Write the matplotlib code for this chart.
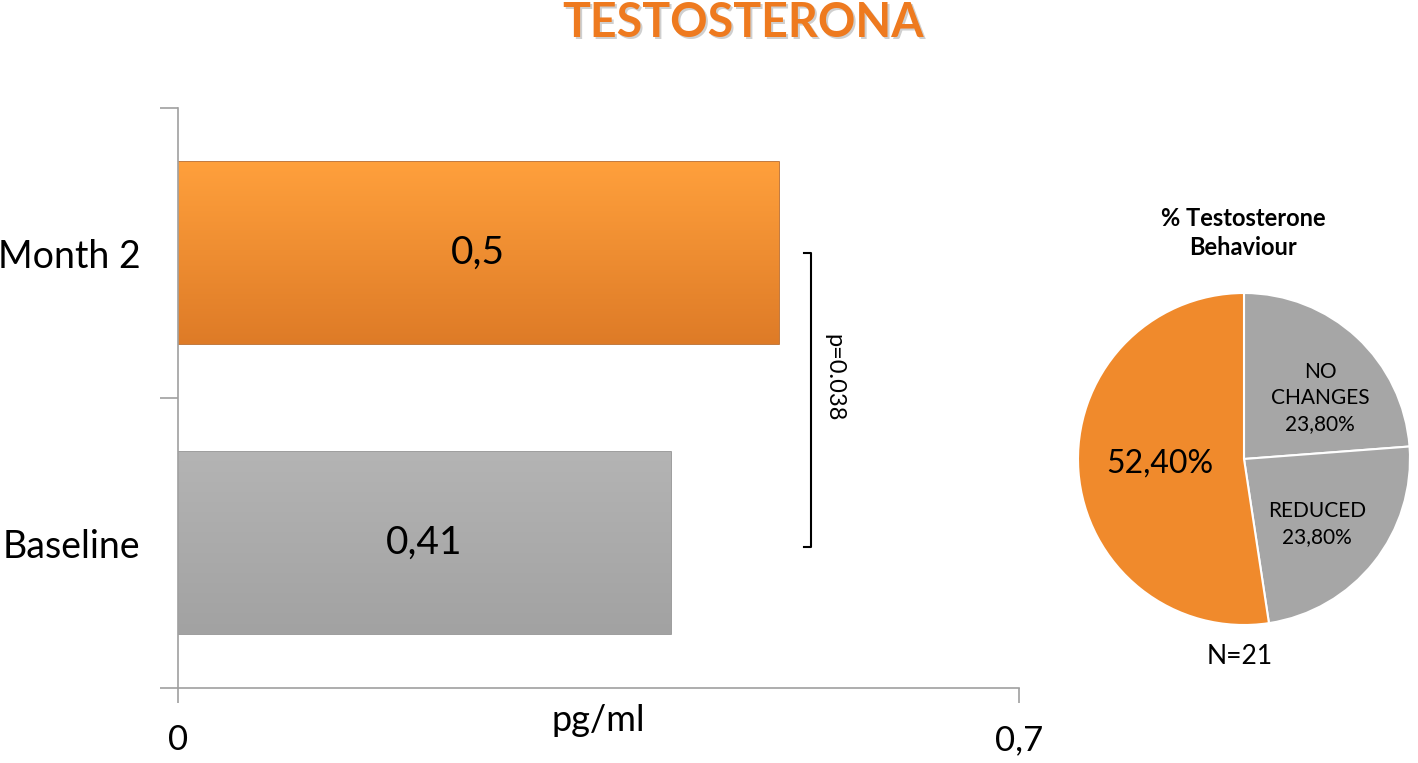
import matplotlib
matplotlib.use("Agg")
import matplotlib.pyplot as plt
import numpy as np
from matplotlib.colors import LinearSegmentedColormap

# ---- data ----
categories = ["Baseline", "Month 2"]
values = [0.41, 0.5]
value_labels = ["0,41", "0,5"]
x_ticks = [0, 0.7]
x_tick_labels = ["0", "0,7"]
p_text = "p=0.038"

pie_labels = ["NO\nCHANGES\n23,80%", "REDUCED\n23,80%", "52,40%"]
pie_values = [23.8, 23.8, 52.4]

plt.rcParams['font.family'] = ['Lato', 'DejaVu Sans']

W, H = 1418, 763
fig = plt.figure(figsize=(W / 100, H / 100), dpi=100)
fig.patch.set_facecolor("white")

# ---- bar axes ----
ax = fig.add_axes([178 / W, 1 - 688 / H, (1019 - 178) / W, (688 - 108) / H])
ypos = np.arange(len(categories))
bar_grad = [("#b4b4b4", "#a2a2a2"), ("#ffa03c", "#de7b27")]
edge_cols = ["#8c8c8c", "#b8621c"]
bars = ax.barh(ypos, values, height=0.63, color=["#ababab", "#f58f30"],
               edgecolor=edge_cols, linewidth=1.2, zorder=2)
for b, (c1, c2) in zip(bars, bar_grad):
    x0, y0 = b.get_x(), b.get_y()
    w, h = b.get_width(), b.get_height()
    cmap = LinearSegmentedColormap.from_list("g", [c2, c1])
    grad = np.linspace(0, 1, 256).reshape(-1, 1)
    im = ax.imshow(grad, cmap=cmap, aspect="auto", origin="lower",
                   extent=[x0, x0 + w, y0, y0 + h], zorder=2.5)
    im.set_clip_path(b)
for b, lab in zip(bars, value_labels):
    ax.text(b.get_x() + b.get_width() / 2, b.get_y() + b.get_height() / 2, lab,
            ha="center", va="center", fontsize=28, color="black", zorder=3)

ax.set_xlim(0, 0.7)
ax.set_ylim(-0.5, 1.5)
ax.set_xticks(x_ticks)
ax.set_xticklabels(x_tick_labels, fontsize=25)
ax.set_yticks(ypos)
ax.set_yticklabels(categories, fontsize=27)
ax.set_yticks([-0.5, 0.5, 1.5], minor=True)
ax.tick_params(axis="y", which="major", length=0, pad=27)
ax.tick_params(axis="y", which="minor", length=13, color="#a0a0a0", width=1.2)
ax.tick_params(axis="x", which="major", length=11, color="#a0a0a0", width=1.2,
               direction="out", pad=15)
for s in ["top", "right"]:
    ax.spines[s].set_visible(False)
for s in ["left", "bottom"]:
    ax.spines[s].set_color("#a0a0a0")
    ax.spines[s].set_linewidth(1.2)
ax.set_xlabel("pg/ml", fontsize=26)
ax.xaxis.set_label_coords(0.5, -0.028)
ax.xaxis.label.set_va("top")

# p-value bracket
bx = 0.527
ax.plot([bx - 0.006, bx, bx, bx - 0.006], [1.0, 1.0, -0.015, -0.015],
        color="black", lw=1.5, clip_on=False, zorder=3)
ax.text(bx + 0.019, 0.57, p_text, rotation=-90, ha="center", va="center",
        fontsize=17)

# title
fig.text(745 / W, 1 - 25 / H, "TESTOSTERONA", ha="center", va="center",
         fontsize=33.5, fontweight="bold", color="#cfcfcf")
fig.text(743 / W, 1 - 23 / H, "TESTOSTERONA", ha="center", va="center",
         fontsize=33.5, fontweight="bold", color="#ee7a1f")

# ---- pie ----
R = 166
pax = fig.add_axes([(1244 - R) / W, (763 - 459 - R) / H, 2 * R / W, 2 * R / H])
pie_colors = ["#a6a6a6", "#a6a6a6", "#f08a2c"]
wedges, _ = pax.pie(pie_values, colors=pie_colors, startangle=90,
                    counterclock=False,
                    wedgeprops=dict(edgecolor="white", linewidth=1.5))
pax.set_xlim(-1, 1)
pax.set_ylim(-1, 1)
pax.set_aspect("equal")
pax.axis("off")
pie_label_pos = [(0.46, 0.367), (0.44, -0.39), (-0.506, -0.03)]
pie_label_sizes = [15, 15, 23]
for (px, py), lab, fs in zip(pie_label_pos, pie_labels, pie_label_sizes):
    pax.text(px, py, lab, ha="center", va="center", fontsize=fs,
             linespacing=1.4)

fig.text(1243 / W, 1 - 233 / H, "% Testosterone\nBehaviour", ha="center",
         va="center", fontsize=17, fontweight="bold", linespacing=1.35)
fig.text(1240 / W, 1 - 657 / H, "N=21", ha="center", va="center",
         fontsize=19)

fig.savefig("out.png", dpi=100)
